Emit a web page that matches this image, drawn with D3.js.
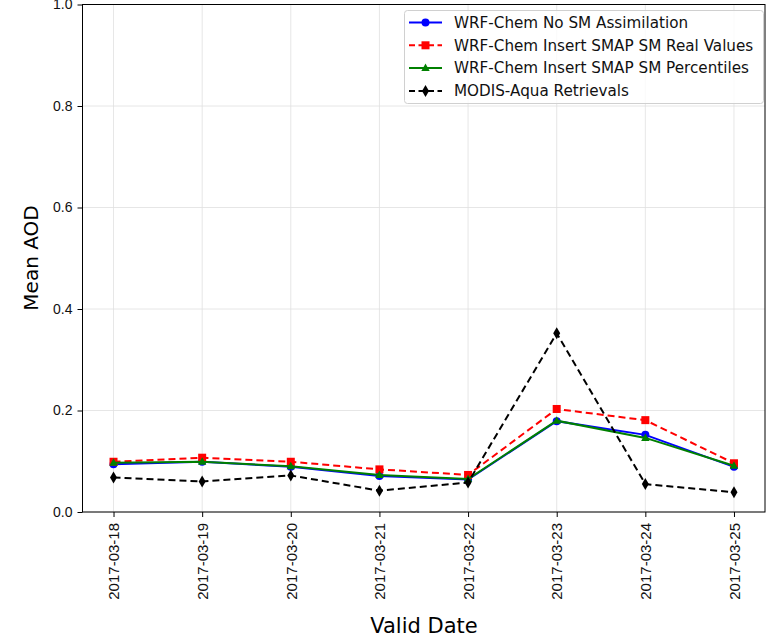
<!DOCTYPE html>
<html><head><meta charset="utf-8">
<script src="https://cdn.jsdelivr.net/npm/d3@7"></script>
<style>body{margin:0;background:#fff}svg{display:block;font-family:"DejaVu Sans",sans-serif}</style>
</head><body><svg id="c" width="776" height="638"></svg>
<script>
const dates = ["2017-03-18","2017-03-19","2017-03-20","2017-03-21","2017-03-22","2017-03-23","2017-03-24","2017-03-25"];
const noSM = [0.094,0.099,0.089,0.071,0.064,0.179,0.152,0.089];
const smapReal = [0.099,0.107,0.099,0.084,0.073,0.203,0.181,0.096];
const smapPct = [0.097,0.099,0.090,0.073,0.065,0.180,0.146,0.091];
const modis = [0.068,0.060,0.072,0.042,0.058,0.352,0.055,0.039];
const yTicks = [0.0,0.2,0.4,0.6,0.8,1.0];

const svg = d3.select("#c");
const L=82.5, R=765, T=4.5, B=512;
const x = d3.scaleLinear().domain([-0.35, dates.length-1+0.35]).range([L,R]);
const y = d3.scaleLinear().domain([0,1]).range([B,T]);

// grid
const g = svg.append("g");
g.selectAll(".vg").data(dates).enter().append("line")
  .attr("x1",(d,i)=>x(i)).attr("x2",(d,i)=>x(i)).attr("y1",T).attr("y2",B)
  .attr("stroke","#e0e0e0").attr("stroke-width",0.8);
g.selectAll(".hg").data(yTicks).enter().append("line")
  .attr("x1",L).attr("x2",R).attr("y1",d=>y(d)).attr("y2",d=>y(d))
  .attr("stroke","#e0e0e0").attr("stroke-width",0.8);

// axes
const xAxis = d3.axisBottom(x).tickValues(d3.range(dates.length)).tickFormat(i=>dates[i]).tickSize(5);
const xa = svg.append("g").attr("transform",`translate(0,${B})`).call(xAxis);
xa.select(".domain").remove();
xa.selectAll("line").attr("stroke","#000").attr("stroke-width",1);
xa.selectAll(".tick text").attr("font-size",15).attr("fill","#111")
  .attr("transform","rotate(-90)").attr("text-anchor","end")
  .attr("x",-11).attr("y",0).attr("dy","0.35em");

const yAxis = d3.axisLeft(y).tickValues(yTicks).tickFormat(d3.format(".1f")).tickSize(5).tickPadding(5);
const ya = svg.append("g").attr("transform",`translate(${L},0)`).call(yAxis);
ya.select(".domain").remove();
ya.selectAll("line").attr("stroke","#000");
ya.selectAll("text").attr("font-size",14).attr("fill","#111");

svg.append("rect").attr("x",L).attr("y",T).attr("width",R-L).attr("height",B-T)
  .attr("fill","none").attr("stroke","#000").attr("stroke-width",1);

// series
const series = [
  {name:"WRF-Chem No SM Assimilation", vals:noSM, color:"blue", dash:null, marker:"circle"},
  {name:"WRF-Chem Insert SMAP SM Real Values", vals:smapReal, color:"red", dash:"7,4", marker:"square"},
  {name:"WRF-Chem Insert SMAP SM Percentiles", vals:smapPct, color:"green", dash:null, marker:"triangle"},
  {name:"MODIS-Aqua Retrievals", vals:modis, color:"black", dash:"7,4", marker:"diamond"}
];
const line = d3.line().x((d,i)=>x(i)).y(d=>y(d));
function marker(sel, type, color){
  if(type==="circle") sel.append("circle").attr("r",4).attr("fill",color);
  else if(type==="square") sel.append("rect").attr("x",-4).attr("y",-4).attr("width",8).attr("height",8).attr("fill",color);
  else if(type==="triangle") sel.append("path").attr("d","M0,-4.5L4.2,3L-4.2,3Z").attr("fill",color);
  else sel.append("path").attr("d","M0,-6L3.5,0L0,6L-3.5,0Z").attr("fill",color);
}
series.forEach(s=>{
  svg.append("path").datum(s.vals).attr("d",line).attr("fill","none")
    .attr("stroke",s.color).attr("stroke-width",2).attr("stroke-dasharray",s.dash);
  s.vals.forEach((v,i)=>{
    const m = svg.append("g").attr("transform",`translate(${x(i)},${y(v)})`);
    marker(m,s.marker,s.color);
  });
});

// legend
const lg = svg.append("g");
lg.append("rect").attr("x",404.5).attr("y",10.5).attr("width",359).attr("height",93).attr("rx",3)
  .attr("fill","#fff").attr("fill-opacity",0.8).attr("stroke","#d0d0d0");
series.forEach((s,i)=>{
  const yy = 22.5 + i*22.8;
  lg.append("line").attr("x1",409).attr("x2",442).attr("y1",yy).attr("y2",yy)
    .attr("stroke",s.color).attr("stroke-width",2).attr("stroke-dasharray",s.dash?"6,3.5":null);
  const m = lg.append("g").attr("transform",`translate(425.5,${yy})`);
  marker(m,s.marker,s.color);
  lg.append("text").attr("x",454).attr("y",yy).attr("dy","0.35em").attr("font-size",15.2).attr("fill","#111").text(s.name);
});

// axis labels
svg.append("text").attr("x",424).attr("y",633).attr("text-anchor","middle").attr("font-size",21).attr("fill","#000").text("Valid Date");
svg.append("text").attr("transform","translate(38,258) rotate(-90)").attr("text-anchor","middle").attr("font-size",20).attr("fill","#000").text("Mean AOD");
</script></body></html>
